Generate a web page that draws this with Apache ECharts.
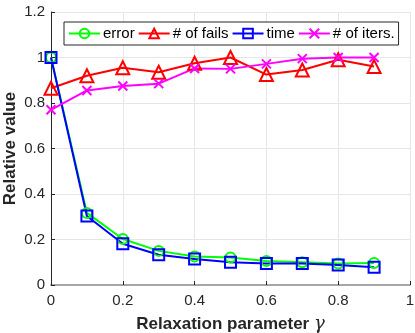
<!DOCTYPE html>
<html>
<head>
<meta charset="utf-8">
<script src="https://cdn.jsdelivr.net/npm/echarts@6/dist/echarts.min.js"></script>
<style>
html, body { margin: 0; padding: 0; background: #fff; }
#chart { width: 415px; height: 333px; }
</style>
</head>
<body>
<div id="chart"></div>
<script>
// relaxation parameter values
var gammas = [0, 0.1, 0.2, 0.3, 0.4, 0.5, 0.6, 0.7, 0.8, 0.9];
var errorVals = [1.0, 0.317, 0.202, 0.15, 0.125, 0.121, 0.105, 0.1, 0.095, 0.097];
var failsVals = [0.865, 0.92, 0.955, 0.935, 0.975, 1.0, 0.925, 0.945, 0.99, 0.96];
var timeVals = [1.0, 0.303, 0.181, 0.133, 0.114, 0.1, 0.094, 0.094, 0.088, 0.078];
var itersVals = [0.77, 0.855, 0.875, 0.885, 0.952, 0.95, 0.972, 0.995, 1.0, 1.0];
var xTicks = [0, 0.2, 0.4, 0.6, 0.8, 1];
var yTicks = [0, 0.2, 0.4, 0.6, 0.8, 1, 1.2];

function pairs(vals) {
    return gammas.map(function (g, i) { return [g, vals[i]]; });
}

function makeSeries(name, vals, color, symbol, size) {
    return {
        name: name,
        type: 'line',
        data: pairs(vals),
        symbol: symbol,
        symbolSize: size,
        showAllSymbol: true,
        lineStyle: { color: color, width: 2 },
        itemStyle: { color: 'rgba(255,255,255,0)', borderColor: color, borderWidth: 2 },
        emphasis: { disabled: true },
        animation: false
    };
}

var crossPath = 'path://M0,0L10,10M10,0L0,10';

var myChart = echarts.init(document.getElementById('chart'));
myChart.setOption({
    backgroundColor: '#fff',
    textStyle: { fontFamily: 'Liberation Sans, Arial, sans-serif' },
    grid: { left: 51, right: 5, top: 12, bottom: 48, outerBoundsMode: 'none', containLabel: false },
    legend: {
        left: 64,
        top: 22,
        padding: [4, 4, 4, 4],
        itemGap: 3,
        itemWidth: 31,
        itemHeight: 12,
        borderColor: '#262626',
        borderWidth: 1,
        backgroundColor: '#fff',
        textStyle: { fontSize: 15, color: '#000', padding: [0, 0, 0, -2] },
        data: ['error', '# of fails', 'time', '# of iters.']
    },
    xAxis: {
        type: 'value',
        min: 0,
        max: 1,
        interval: 0.2,
        name: 'Relaxation parameter {g|γ}',
        nameLocation: 'middle',
        nameMoveOverlap: false,
        nameGap: 30,
        nameTextStyle: {
            fontSize: 17, fontWeight: 'bold', color: '#262626',
            rich: { g: { fontSize: 18, fontStyle: 'italic', fontWeight: 'normal', fontFamily: 'DejaVu Serif', color: '#262626' } }
        },
        axisLine: { show: true, lineStyle: { color: '#a6a6a6', width: 2 } },
        axisTick: { show: true, inside: true, length: 4, lineStyle: { color: '#262626' } },
        axisLabel: {
            fontSize: 15, color: '#262626', margin: 8,
            formatter: function (v) { return xTicks.indexOf(v) >= 0 ? String(v) : ''; }
        },
        splitLine: { show: true, lineStyle: { color: '#e6e6e6', width: 1 } }
    },
    yAxis: {
        type: 'value',
        min: 0,
        max: 1.2,
        interval: 0.2,
        name: 'Relative value',
        nameLocation: 'middle',
        nameMoveOverlap: false,
        nameGap: 32,
        nameTextStyle: { fontSize: 17, fontWeight: 'bold', color: '#262626' },
        axisLine: { show: true, lineStyle: { color: '#262626', width: 1 } },
        axisTick: { show: true, inside: true, length: 4, lineStyle: { color: '#262626' } },
        axisLabel: {
            fontSize: 15, color: '#262626', margin: 6,
            formatter: function (v) {
                var t = Math.round(v * 10) / 10;
                return yTicks.indexOf(t) >= 0 ? String(t) : '';
            }
        },
        splitLine: { show: true, lineStyle: { color: '#e6e6e6', width: 1 } }
    },
    series: [
        makeSeries('error', errorVals, '#00ff00', 'circle', 10),
        makeSeries('# of fails', failsVals, '#ff0000', 'triangle', 13),
        makeSeries('time', timeVals, '#0000ff', 'rect', 11),
        makeSeries('# of iters.', itersVals, '#ff00ff', crossPath, 9)
    ]
});
</script>
</body>
</html>
